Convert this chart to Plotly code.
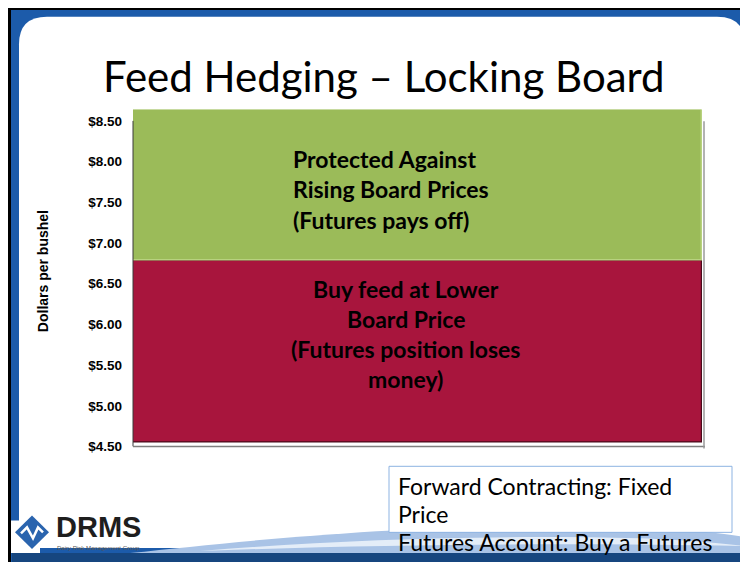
import plotly.graph_objects as go

# ---------------- data ----------------
categories = ["Feed price"]
floor_price = [4.55]        # bottom of the "buy at lower board price" band
lock_price = [6.78]         # locked board level
ceiling_price = [8.64]      # top of the "protected" band
tick_values = [4.5, 5.0, 5.5, 6.0, 6.5, 7.0, 7.5, 8.0, 8.5]
tick_labels = ["$4.50", "$5.00", "$5.50", "$6.00", "$6.50", "$7.00", "$7.50", "$8.00", "$8.50"]
title_text = "Feed Hedging – Locking Board"
y_title = "Dollars per bushel"
green_lines = ["Protected Against", "Rising Board Prices", "(Futures pays off)"]
red_lines = ["Buy feed at Lower", "Board Price", "(Futures position loses", "money)"]
box_lines = ["Forward Contracting: Fixed", "Price", "Futures Account: Buy a Futures"]

# the page body has an 8px margin, so the figure starts 8px in from the top-left corner
OFF = 8
W, H = 748 - OFF, 564 - OFF
def X(px): return (px - OFF) / W
def Y(py): return 1 - (py - OFF) / H

GREEN = "#9BBB59"
RED = "#A8153D"
BLUE = "#1C5BAA"

fig = go.Figure()
fig.add_trace(go.Bar(
    x=categories, base=floor_price,
    y=[l - f for l, f in zip(lock_price, floor_price)],
    marker=dict(color=RED, line=dict(color="#4A0A1A", width=1.2)),
    hoverinfo="skip", showlegend=False))
fig.add_trace(go.Bar(
    x=categories, base=lock_price,
    y=[c - l for c, l in zip(ceiling_price, lock_price)],
    marker=dict(color=GREEN, line=dict(color="#B8D27F", width=1.5)),
    hoverinfo="skip", showlegend=False))

x0, x1 = 133, 702
ytop, ybot = 111, 453

shapes = []
# slide frame
shapes.append(dict(type="rect", xref="paper", yref="paper", x0=X(8), x1=X(760), y0=Y(570), y1=Y(5),
                   fillcolor="#000000", line=dict(width=0), layer="below"))
shapes.append(dict(type="rect", xref="paper", yref="paper", x0=X(11), x1=X(760), y0=Y(570), y1=Y(10),
                   fillcolor=BLUE, line=dict(width=0), layer="below"))
r = 28
pts = (f"M {X(19)},{Y(17+r)} Q {X(19)},{Y(17)} {X(19+r)},{Y(17)} "
       f"L {X(745-r)},{Y(17)} Q {X(745)},{Y(17)} {X(745)},{Y(17+r)} "
       f"L {X(745)},{Y(536)} Q {X(745)},{Y(556)} {X(725)},{Y(556)} "
       f"L {X(19)},{Y(556)} Z")
shapes.append(dict(type="path", xref="paper", yref="paper", path=pts,
                   fillcolor="#FFFFFF", line=dict(width=0), layer="below"))
shapes.append(dict(type="rect", xref="paper", yref="paper", x0=X(11), x1=X(40), y0=Y(561), y1=Y(528),
                   fillcolor="#FFFFFF", line=dict(width=0), layer="below"))
# bottom wave
wave = (f"M {X(130)},{Y(561)} C {X(250)},{Y(548)} {X(420)},{Y(530)} {X(600)},{Y(534)} "
        f"C {X(680)},{Y(536)} {X(720)},{Y(540)} {X(745)},{Y(545)} L {X(745)},{Y(561)} Z")
shapes.append(dict(type="path", xref="paper", yref="paper", path=wave,
                   fillcolor="#A9C3E6", line=dict(width=0), layer="below"))
streak = (f"M {X(200)},{Y(559)} C {X(330)},{Y(548)} {X(480)},{Y(542)} {X(640)},{Y(546)} "
          f"C {X(690)},{Y(548)} {X(720)},{Y(551)} {X(745)},{Y(554)} "
          f"C {X(600)},{Y(551)} {X(400)},{Y(551)} {X(200)},{Y(559)} Z")
shapes.append(dict(type="path", xref="paper", yref="paper", path=streak,
                   fillcolor="#E4EDF8", line=dict(width=0), layer="below"))
shapes.append(dict(type="rect", xref="paper", yref="paper", x0=X(12), x1=X(760), y0=Y(570), y1=Y(561),
                   fillcolor="#16467F", line=dict(width=0), layer="below"))
# logo diamond
cx, cy, d = 32, 540, 17
shapes.append(dict(type="path", xref="paper", yref="paper",
                   path=f"M {X(cx-d)},{Y(cy)} L {X(cx)},{Y(cy-d)} L {X(cx+d)},{Y(cy)} L {X(cx)},{Y(cy+d)} Z",
                   fillcolor="#2A64AE", line=dict(width=0)))
shapes.append(dict(type="path", xref="paper", yref="paper",
                   path=f"M {X(21)},{Y(541)} L {X(27)},{Y(535)} L {X(33)},{Y(546)} L {X(38)},{Y(535)} L {X(43)},{Y(540)}",
                   line=dict(color="#FFFFFF", width=2.5)))

# axis lines / chart frame
shapes.append(dict(type="line", xref="paper", yref="y", x0=X(x0), x1=X(x0), y0=4.5, y1=8.5,
                   line=dict(color="#3A3A3A", width=1)))
shapes.append(dict(type="line", xref="paper", yref="paper", x0=X(x0), x1=X(705), y0=Y(453), y1=Y(453),
                   line=dict(color="#7F7F7F", width=1.5)))
shapes.append(dict(type="line", xref="paper", yref="paper", x0=X(704), x1=X(704), y0=Y(455), y1=Y(123),
                   line=dict(color="#9A9A9A", width=1.5)))
# text box
shapes.append(dict(type="rect", xref="paper", yref="paper", x0=X(389), x1=X(732), y0=Y(540), y1=Y(473),
                   fillcolor="#FFFFFF", line=dict(color="#8DB3E2", width=1)))

ann = []
ann.append(dict(text=title_text, x=X(384), y=Y(77), xref="paper", yref="paper", showarrow=False,
                xanchor="center", yanchor="middle", font=dict(family="Lato", size=42, color="#000000")))
ann.append(dict(text=y_title, x=X(43), y=Y(275), xref="paper", yref="paper", showarrow=False,
                textangle=-90, xanchor="center", yanchor="middle",
                font=dict(family="Liberation Sans", size=14, color="#000000", weight="bold")))
for i, t in enumerate(green_lines):
    ann.append(dict(text=t, x=X(291), y=Y(161 + 31 * i), xref="paper", yref="paper", showarrow=False,
                    xanchor="left", yanchor="middle",
                    font=dict(family="Lato", size=23, color="#000000", weight="bold")))
for i, t in enumerate(red_lines):
    ann.append(dict(text=t, x=X(406), y=Y(293 + 30.5 * i), xref="paper", yref="paper", showarrow=False,
                    xanchor="center", yanchor="middle",
                    font=dict(family="Lato", size=23, color="#000000", weight="bold")))
for i, t in enumerate(box_lines):
    ann.append(dict(text=t, x=X(396), y=Y(493 + 28.5 * i), xref="paper", yref="paper", showarrow=False,
                    xanchor="left", yanchor="middle",
                    font=dict(family="Lato", size=23, color="#000000")))
ann.append(dict(text="DRMS", x=X(54), y=Y(535), xref="paper", yref="paper", showarrow=False,
                xanchor="left", yanchor="middle",
                font=dict(family="Liberation Sans", size=29, color="#1E1E1E", weight="bold")))
ann.append(dict(text="Dairy Risk Management Group", x=X(55), y=Y(556), xref="paper", yref="paper",
                showarrow=False, xanchor="left", yanchor="middle",
                font=dict(family="Liberation Sans", size=6, color="#555555")))

fig.update_layout(
    width=W, height=H, margin=dict(l=0, r=0, t=0, b=0),
    paper_bgcolor="#FFFFFF", plot_bgcolor="rgba(0,0,0,0)",
    barmode="overlay", bargap=0,
    xaxis=dict(domain=[X(x0), X(x1)], range=[-0.5, 0.5], visible=False, fixedrange=True),
    yaxis=dict(domain=[Y(ybot), Y(ytop)], range=[4.5, 8.64], tickvals=tick_values, ticktext=tick_labels,
               showgrid=False, zeroline=False, showline=False, ticks="", ticklabelstandoff=10,
               tickfont=dict(family="Liberation Sans", size=13.5, color="#000000", weight="bold")),
    shapes=shapes, annotations=ann, showlegend=False,
)
fig.write_html("out.html")
